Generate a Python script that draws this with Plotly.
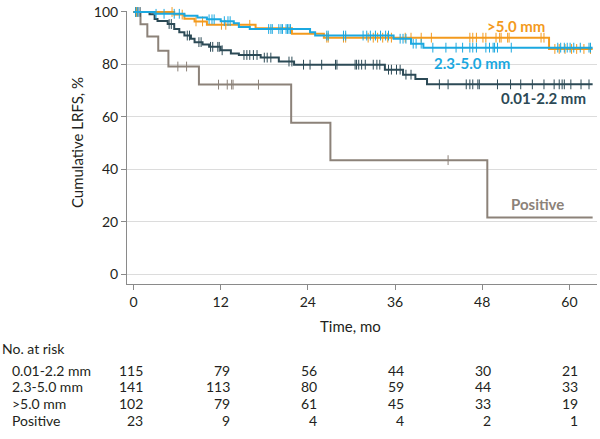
import plotly.graph_objects as go

# ---------------- data ----------------
tick_months = [0, 12, 24, 36, 48, 60]
y_ticks = [0, 20, 40, 60, 80, 100]
end_month = 63.2

group_names = ["0.01-2.2 mm", "2.3-5.0 mm", ">5.0 mm", "Positive"]

# step-function estimates (time in months, cumulative LRFS %)
thin_t = [0, 2.2, 2.9, 3.3, 4.7, 5.6, 6.3, 7.0, 7.9, 8.4, 9.5, 10.4, 12.0, 13.4,
          14.5, 17.5, 20.0, 22.1, 34.6, 37.1, 38.8, 40.4]
thin_s = [100, 99.1, 97.3, 96.6, 95.4, 93.5, 92.3, 91.0, 89.8, 88.5, 87.6, 86.7, 85.4, 84.2,
          83.6, 82.6, 81.1, 79.9, 78.0, 76.1, 74.4, 72.4]

mid_t = [0, 2.9, 7.0, 8.8, 10.1, 12.0, 13.8, 14.5, 16.0, 24.3, 25.0, 35.8, 38.2, 39.9]
mid_s = [100, 99.3, 98.6, 97.9, 97.2, 96.5, 95.7, 94.3, 93.5, 92.3, 91.0, 89.8, 87.9, 86.4]

thick_t = [0, 5.6, 7.0, 8.4, 10.1, 16.8, 21.8, 26.2, 57.2]
thick_s = [100, 99.0, 97.4, 96.4, 95.1, 93.8, 91.7, 90.2, 85.9]

pos_t = [0, 0.96, 1.9, 3.4, 4.8, 9.0, 21.7, 27.1, 48.7]
pos_s = [100, 95.3, 90.6, 85.2, 79.2, 72.3, 57.8, 43.5, 21.6]

# censoring times (months)
thin_c = [0.3, 0.6, 0.9, 4.9, 5.2, 7.4, 7.7, 9.0, 9.3, 10.6, 10.9, 11.6, 11.8, 12.2,
          15.2, 15.6, 16.0, 16.5, 17.0, 18.0, 18.4, 18.9, 21.4, 21.8, 23.4, 24.3, 25.9,
          27.8, 28.0, 30.5, 30.7, 31.0, 31.4, 31.9, 33.0, 33.5, 33.9, 35.1, 35.5, 36.2,
          36.7, 37.5, 38.2, 42.1, 43.3, 45.8, 46.3, 46.7, 47.4, 47.6, 50.1, 51.9, 53.3,
          54.9, 56.5, 57.9, 58.6, 59.0, 59.3, 60.2, 61.6, 62.7]
mid_c = [0.3, 0.6, 3.1, 4.2, 5.6, 6.3, 10.4, 10.8, 11.1, 12.5, 13.0, 13.3, 18.6, 18.9,
         19.1, 20.0, 20.3, 20.5, 21.0, 21.2, 21.4, 21.6, 26.6, 26.8, 28.9, 29.2, 31.6,
         32.1, 32.6, 33.3, 34.0, 34.7, 35.1, 36.7, 37.1, 37.5, 38.5, 38.9, 39.6, 41.2,
         43.0, 44.4, 45.3, 46.3, 46.7, 47.2, 48.5, 49.0, 49.5, 49.7, 50.1, 52.0, 58.4,
         58.8, 59.3, 59.7, 60.1, 60.6, 61.5, 62.7, 62.9]
thick_c = [0.4, 5.3, 6.7, 8.6, 9.5, 12.1, 12.7, 16.0, 26.6, 26.8, 28.9, 29.2, 32.3,
           33.0, 33.6, 34.3, 35.0, 35.5, 37.4, 38.2, 39.6, 41.0, 46.3, 46.7, 47.2, 48.1,
           48.5, 49.9, 50.4, 50.6, 51.5, 51.7, 56.1, 56.5, 58.0, 58.6, 59.4, 60.3, 61.0,
           62.0, 62.9]
pos_c = [6.1, 7.3, 11.7, 12.9, 13.5, 13.7, 17.2, 43.3]

# numbers at risk at tick_months
risk_thin = [115, 79, 56, 44, 30, 21]
risk_mid = [141, 113, 80, 59, 44, 33]
risk_thick = [102, 79, 61, 45, 33, 19]
risk_pos = [23, 9, 4, 4, 2, 1]

# ---------------- styling ----------------
colors = {"0.01-2.2 mm": "#2C4A56", "2.3-5.0 mm": "#1BA8E0",
          ">5.0 mm": "#F39A1E", "Positive": "#8C8279"}
FONT = "Lato"
TXT = "#231F20"


def surv_at(ts, ss, t):
    v = ss[0]
    for ti, si in zip(ts, ss):
        if ti <= t:
            v = si
    return v


series = [
    ("Positive", pos_t, pos_s, pos_c),
    ("0.01-2.2 mm", thin_t, thin_s, thin_c),
    (">5.0 mm", thick_t, thick_s, thick_c),
    ("2.3-5.0 mm", mid_t, mid_s, mid_c),
]

fig = go.Figure()
for name, ts, ss, cs in series:
    col = colors[name]
    xs = list(ts) + [end_month]
    ys = list(ss) + [ss[-1]]
    fig.add_trace(go.Scatter(x=xs, y=ys, mode="lines", line=dict(color=col, width=2, shape="hv"),
                             showlegend=False, hoverinfo="skip"))
    fig.add_trace(go.Scatter(x=cs, y=[surv_at(ts, ss, c) for c in cs], mode="markers",
                             marker=dict(symbol="line-ns-open", size=7, color=col,
                                         line=dict(color=col, width=1)),
                             showlegend=False, hoverinfo="skip", cliponaxis=False))

# curve labels
labels = [(">5.0 mm", 52.7, 94.6), ("2.3-5.0 mm", 46.6, 80.6),
          ("0.01-2.2 mm", 56.5, 67.2), ("Positive", 55.6, 26.9)]
for name, lx, ly in labels:
    fig.add_annotation(x=lx, y=ly, xref="x", yref="y", text="<b>" + name + "</b>",
                       xanchor="center", yanchor="middle",
                       showarrow=False, font=dict(family=FONT, size=15, color=colors[name]))

# axis titles
fig.add_annotation(x=(77 - 127) / 470, y=(284 - 140) / 279, xref="paper", yref="paper",
                   xanchor="center", yanchor="middle",
                   text="Cumulative LRFS, %", textangle=-90, showarrow=False,
                   font=dict(family=FONT, size=15, color=TXT))
fig.add_annotation(x=(350 - 127) / 470, y=(284 - 327) / 279, xref="paper", yref="paper",
                   xanchor="center", yanchor="middle",
                   text="Time, mo", showarrow=False, font=dict(family=FONT, size=15, color=TXT))

# risk table
fig.add_annotation(x=(0 - 127) / 470, y=(284 - 350) / 279, xref="paper", yref="paper",
                   xanchor="left", yanchor="middle", text="No. at risk", showarrow=False,
                   font=dict(family=FONT, size=14, color=TXT))
rows = [("0.01-2.2 mm", risk_thin, 372), ("2.3-5.0 mm", risk_mid, 389),
        (">5.0 mm", risk_thick, 406), ("Positive", risk_pos, 423)]
for name, vals, ypix in rows:
    yp = (284 - ypix) / 279
    fig.add_annotation(x=(10 - 127) / 470, y=yp, xref="paper", yref="paper", xanchor="left",
                       yanchor="middle",
                       text=name, showarrow=False, font=dict(family=FONT, size=14, color=TXT))
    for t, v in zip(tick_months, vals):
        fig.add_annotation(x=t, y=yp, xref="x", yref="paper", xanchor="right", yanchor="middle",
                           xshift=11,
                           text=str(v), showarrow=False, font=dict(family=FONT, size=14, color=TXT))

fig.update_xaxes(range=[-0.9, 63.8], tickvals=tick_months, ticks="outside", ticklen=5,
                 tickcolor="#8A8A8A", showline=True, linecolor="#8A8A8A", linewidth=1,
                 showgrid=False, zeroline=False, ticklabeloverflow="allow",
                 tickfont=dict(family=FONT, size=14, color=TXT))
fig.update_yaxes(range=[-3.73, 100.37], tickvals=y_ticks, ticks="outside", ticklen=5,
                 tickcolor="#8A8A8A", showline=True, linecolor="#8A8A8A", linewidth=1,
                 showgrid=True, gridcolor="#DCDCDC", gridwidth=1, zeroline=False,
                 ticklabeloverflow="allow",
                 tickfont=dict(family=FONT, size=14, color=TXT))

fig.update_layout(width=600, height=439, margin=dict(l=127, r=3, t=5, b=155),
                  plot_bgcolor="white", paper_bgcolor="white", showlegend=False)

fig.write_html("out.html", config={"displayModeBar": False},
               post_script="document.body.style.margin='0';")
